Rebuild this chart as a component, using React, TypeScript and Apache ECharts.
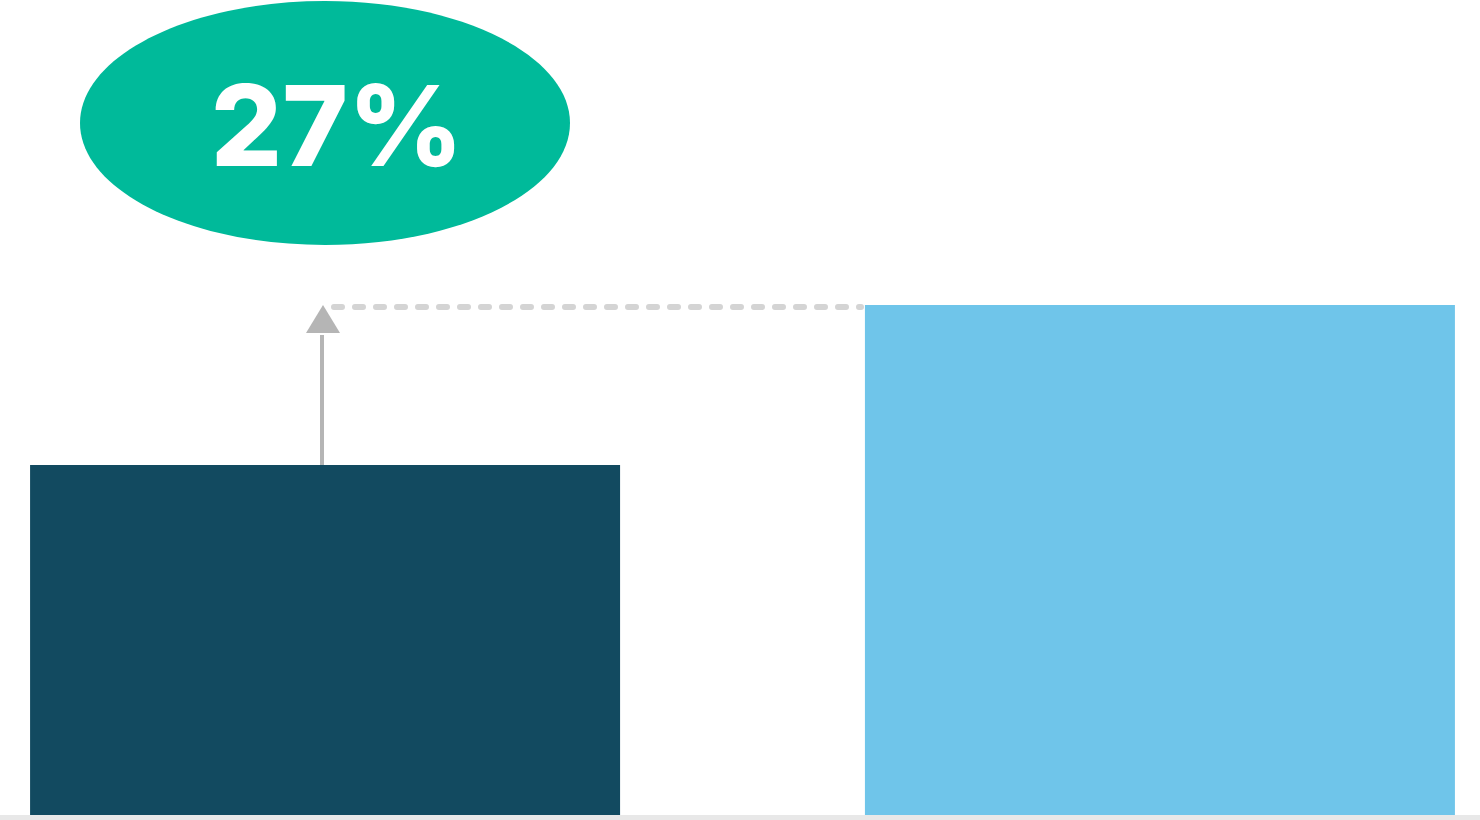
import React, { useEffect, useRef } from "react";
import * as echarts from "echarts";

const categories = ["Comparison"];
const seriesNames = ["Before", "After"];
const beforeValues = [35];
const afterValues = [51];
const changeLabel = "27%";

export default function App() {
  const ref = useRef<HTMLDivElement>(null);
  useEffect(() => {
    document.body.style.margin = "0";
    const chart = echarts.init(ref.current!, null, { renderer: "svg" });
    const option: any = {
      animation: false,
      grid: { left: 30, right: 25, top: 0, bottom: 5 },
      xAxis: {
        type: "category",
        data: categories,
        axisLine: { show: false },
        axisTick: { show: false },
        axisLabel: { show: false },
      },
      yAxis: {
        type: "value",
        min: 0,
        max: 81.5,
        show: false,
        splitLine: { show: false },
      },
      series: [
        {
          name: seriesNames[0],
          type: "bar",
          data: beforeValues,
          barWidth: 590,
          barGap: "41.5%",
          barCategoryGap: 0,
          itemStyle: { color: "#124a60" },
        },
        {
          name: seriesNames[1],
          type: "bar",
          data: afterValues,
          barWidth: 590,
          itemStyle: { color: "#6fc5ea" },
        },
      ],
    };
    chart.setOption(option);
    const yBefore = chart.convertToPixel({ yAxisIndex: 0 }, beforeValues[0]) as number;
    const yAfter = chart.convertToPixel({ yAxisIndex: 0 }, afterValues[0]) as number;
    const ax = 322;
    chart.setOption({
      graphic: [
        {
          type: "rect",
          left: 0,
          bottom: 0,
          shape: { width: 1480, height: 5 },
          style: { fill: "#e8e8e8" },
          silent: true,
        },
        {
          type: "line",
          shape: { x1: 334, y1: yAfter + 2, x2: 861, y2: yAfter + 2 },
          style: { stroke: "#d4d4d4", lineWidth: 6, lineDash: [8, 13], lineCap: "round" },
        },
        {
          type: "line",
          shape: { x1: ax, y1: yBefore, x2: ax, y2: yAfter + 30 },
          style: { stroke: "#b5b5b5", lineWidth: 4 },
        },
        {
          type: "polygon",
          shape: { points: [[ax + 1, yAfter], [ax - 16, yAfter + 28], [ax + 18, yAfter + 28]] },
          style: { fill: "#b5b5b5" },
        },
        {
          type: "ellipse",
          shape: { cx: 325, cy: 123, rx: 245, ry: 122 },
          style: { fill: "#00ba9a" },
        },
        {
          type: "text",
          x: 337,
          y: 125,
          style: {
            text: changeLabel,
            fill: "#ffffff",
            font: "800 112px Inter",
            align: "center",
            verticalAlign: "middle",
          },
        },
      ],
    });
    return () => chart.dispose();
  }, []);
  return (
    <div
      ref={ref}
      style={{ position: "absolute", left: 0, top: 0, width: 1480, height: 820, background: "#ffffff" }}
    />
  );
}
